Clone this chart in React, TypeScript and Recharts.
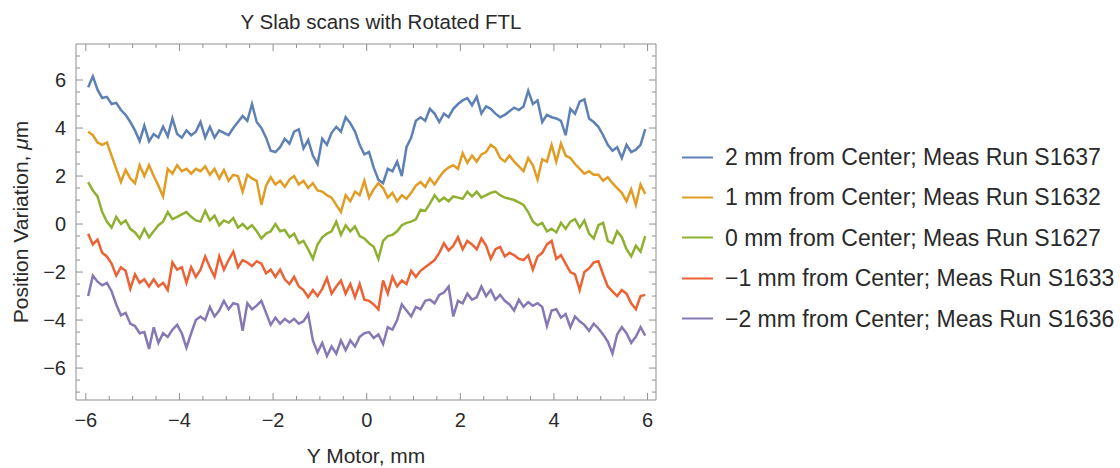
import { LineChart, Line, XAxis, YAxis } from 'recharts'

// scan positions (Y motor, mm)
const yMotor = Array.from({ length: 120 }, (_, i) => Math.round((-5.95 + i * 0.1) * 100) / 100)

// position variation, um
const run1637 = [
  5.7, 6.15, 5.6, 5.25, 5.3, 5.0, 5.05, 4.75, 4.55, 4.25,
  3.9, 3.45, 4.1, 3.45, 3.75, 3.6, 4.05, 3.65, 4.4, 3.75,
  3.6, 3.9, 3.7, 3.85, 4.25, 3.6, 4.05, 3.6, 3.9, 3.8,
  3.7, 4.0, 4.25, 4.5, 4.3, 5.0, 4.25, 4.0, 3.6, 3.05,
  3.0, 3.2, 3.55, 3.35, 3.85, 3.95, 3.15, 3.5, 2.85, 2.5,
  3.55, 3.3, 3.8, 4.05, 3.85, 4.45, 4.2, 3.85, 3.3, 2.9,
  3.0, 2.35, 1.85, 1.7, 2.3, 2.2, 2.6, 2.0, 3.2, 3.6,
  4.3, 4.45, 4.3, 4.8, 4.6, 4.25, 4.6, 4.45, 4.8, 5.0,
  5.15, 5.25, 4.95, 5.3, 4.6, 4.9, 4.8, 4.6, 4.45, 4.55,
  4.7, 4.85, 4.75, 4.9, 5.55, 5.0, 5.15, 4.25, 4.55, 4.45,
  4.4, 4.3, 3.7, 4.8, 4.6, 5.1, 5.2, 4.4, 4.25, 4.05,
  3.7, 3.3, 3.05, 3.2, 2.75, 3.3, 3.0, 3.1, 3.3, 3.95,
]

const run1632 = [
  3.85, 3.7, 3.4, 3.3, 3.4, 2.85, 2.3, 1.75, 2.25, 1.9,
  1.7, 2.45, 2.0, 2.45, 2.0, 1.6, 1.15, 2.3, 2.1, 2.45,
  2.2, 2.3, 2.1, 2.3, 2.2, 2.4, 2.05, 2.3, 1.9, 2.25,
  1.8, 2.05, 2.0, 1.35, 2.05, 1.9, 1.8, 0.8, 1.6, 1.95,
  1.65, 1.8, 1.55, 1.85, 2.0, 1.65, 1.8, 1.5, 1.7, 1.4,
  1.35, 1.2, 1.1, 0.8, 0.5, 1.2, 0.95, 1.35, 1.2, 1.8,
  1.1, 1.45, 1.7, 1.5, 1.1, 1.3, 0.95, 1.2, 1.05, 1.3,
  1.6, 1.75, 1.55, 1.9, 1.65, 1.95, 2.2, 2.35, 2.45, 2.3,
  2.95, 2.55, 2.85, 2.6, 2.9, 3.0, 3.3, 3.15, 2.75, 2.6,
  2.85, 2.6, 2.4, 2.2, 2.75, 2.45, 1.85, 2.7, 2.6, 3.3,
  2.6, 3.35, 2.85, 2.75, 2.5, 2.3, 2.1, 2.2, 2.05, 2.05,
  1.8, 1.95, 1.7, 1.5, 1.3, 0.95, 1.45, 0.8, 1.65, 1.25,
]

const run1627 = [
  1.75, 1.4, 1.15, 0.5, 0.1, -0.15, 0.3, 0.0, 0.15, -0.2,
  -0.35, -0.6, -0.2, -0.55, -0.3, -0.05, 0.1, 0.5, 0.2, 0.3,
  0.4, 0.5, 0.3, 0.15, 0.1, 0.55, 0.15, 0.35, -0.05, 0.15,
  0.05, 0.25, -0.15, 0.0, -0.2, -0.05, -0.3, -0.6, -0.4, -0.3,
  0.0, -0.3, -0.25, -0.55, -0.4, -0.8, -0.7, -1.05, -1.45, -0.85,
  -0.55, -0.4, -0.3, 0.1, -0.45, -0.05, -0.3, -0.1, -0.5, -0.6,
  -0.8, -0.95, -1.45, -0.7, -0.5, -0.45, -0.3, -0.05, 0.05, 0.1,
  0.2, 0.6, 0.55, 0.85, 1.2, 0.95, 1.1, 0.95, 1.15, 1.1,
  1.05, 1.35, 1.15, 1.35, 1.1, 1.2, 1.3, 1.35, 1.2, 1.1,
  1.05, 1.0, 0.9, 0.8, 0.5, 0.1, -0.05, 0.05, -0.3, -0.2,
  -0.35, 0.05, -0.2, 0.1, 0.2, -0.15, 0.15, -0.4, -0.6, -0.05,
  0.05, -0.7, -0.8, -0.3, -0.55, -1.05, -1.35, -0.9, -1.15, -0.5,
]

const run1633 = [
  -0.4, -0.85, -0.65, -1.2, -1.35, -1.65, -2.15, -1.8, -1.95, -2.7,
  -2.1, -2.45, -2.3, -2.6, -2.3, -2.6, -2.45, -2.75, -1.6, -1.9,
  -1.8, -2.45, -1.8, -2.2, -1.9, -1.35, -1.8, -2.2, -1.35, -1.9,
  -1.5, -1.15, -1.8, -1.5, -1.6, -1.75, -1.55, -1.65, -2.05, -1.9,
  -2.2, -1.9, -2.3, -2.5, -2.2, -2.6, -2.75, -3.05, -2.75, -3.0,
  -2.7, -2.25, -2.9, -2.6, -2.35, -2.9, -2.5, -3.05, -2.5, -3.15,
  -3.2, -3.35, -3.55, -2.35, -2.9, -2.2, -2.6, -2.35, -2.5, -1.95,
  -2.2, -1.95, -1.8, -1.65, -1.5, -1.2, -0.8, -1.1, -0.9, -0.55,
  -1.05, -0.7, -0.85, -1.05, -0.6, -0.9, -1.45, -1.05, -0.95, -1.35,
  -1.2, -1.3, -1.45, -1.5, -1.3, -1.9, -1.35, -1.2, -0.85, -0.7,
  -1.45, -1.3, -1.65, -2.0, -2.1, -2.75, -2.0, -1.85, -1.6, -1.55,
  -2.1, -2.6, -2.8, -3.0, -2.75, -2.9, -3.3, -3.55, -3.0, -2.95,
]

const run1636 = [
  -3.0, -2.15, -2.4, -2.55, -2.45, -2.8, -3.35, -3.8, -3.7, -4.15,
  -4.25, -4.55, -4.5, -5.2, -4.3, -4.95, -4.55, -4.7, -4.4, -4.2,
  -4.55, -5.15, -4.55, -4.0, -3.85, -4.0, -3.45, -3.85, -3.6, -3.2,
  -3.55, -3.3, -3.35, -4.45, -3.3, -3.55, -3.4, -3.2, -3.7, -4.2,
  -3.9, -4.15, -3.95, -4.1, -3.95, -4.15, -4.05, -3.75, -4.85, -5.35,
  -4.95, -5.5, -5.1, -5.4, -4.85, -5.25, -4.85, -5.1, -4.7, -4.55,
  -4.5, -4.75, -4.6, -5.0, -4.3, -4.4, -4.0, -3.35, -3.6, -3.85,
  -3.45, -3.55, -3.2, -3.15, -3.3, -2.95, -2.85, -2.6, -3.85, -3.2,
  -3.3, -2.9, -3.15, -3.05, -2.6, -3.0, -2.75, -3.15, -2.95, -3.2,
  -3.35, -3.6, -3.15, -3.45, -3.25, -3.4, -3.3, -3.45, -4.25, -3.6,
  -3.55, -3.9, -3.75, -4.3, -3.85, -4.05, -4.2, -4.45, -4.15, -4.35,
  -4.6, -4.9, -5.4, -4.6, -4.3, -4.55, -4.95, -4.7, -4.3, -4.65,
]

const seriesList = [
  { key: 's1637', name: '2 mm from Center; Meas Run S1637', color: '#5E81B5', values: run1637 },
  { key: 's1632', name: '1 mm from Center; Meas Run S1632', color: '#E19C24', values: run1632 },
  { key: 's1627', name: '0 mm from Center; Meas Run S1627', color: '#8FB131', values: run1627 },
  { key: 's1633', name: '\u22121 mm from Center; Meas Run S1633', color: '#EB6235', values: run1633 },
  { key: 's1636', name: '\u22122 mm from Center; Meas Run S1636', color: '#8778B3', values: run1636 },
]

const xTicks = Array.from({ length: 25 }, (_, i) => -6 + i * 0.5)
const yTicks = Array.from({ length: 29 }, (_, i) => -7 + i * 0.5)

const data = yMotor.map((x, i) => {
  const row: Record<string, number> = { x }
  seriesList.forEach((s) => {
    row[s.key] = s.values[i]
  })
  return row
})

const FONT = '"Liberation Sans", Arial, sans-serif'
const FRAME = '#8f8f8f'
const TEXT = '#2a2a2a'

const isMajor = (v: number) => Math.abs(v % 2) < 1e-9
const fmt = (v: number) => (v < 0 ? '\u2212' + Math.abs(v) : String(v))

function BottomTick({ x, y, payload }: any) {
  const major = isMajor(payload.value)
  return (
    <g>
      <line x1={x} x2={x} y1={y} y2={y - (major ? 7 : 4)} stroke={FRAME} strokeWidth={1} />
      {major && (
        <text x={x} y={y + 20} textAnchor="middle" dominantBaseline="central" fontSize={20} fontFamily={FONT} fill={TEXT}>
          {fmt(payload.value)}
        </text>
      )}
    </g>
  )
}

function TopTick({ x, y, payload }: any) {
  const major = isMajor(payload.value)
  return <line x1={x} x2={x} y1={y} y2={y + (major ? 7 : 4)} stroke={FRAME} strokeWidth={1} />
}

function LeftTick({ x, y, payload }: any) {
  const major = isMajor(payload.value)
  return (
    <g>
      <line x1={x} x2={x + (major ? 7 : 4)} y1={y} y2={y} stroke={FRAME} strokeWidth={1} />
      {major && (
        <text x={x - 10} y={y} textAnchor="end" dominantBaseline="central" fontSize={20} fontFamily={FONT} fill={TEXT}>
          {fmt(payload.value)}
        </text>
      )}
    </g>
  )
}

function RightTick({ x, y, payload }: any) {
  const major = isMajor(payload.value)
  return <line x1={x} x2={x - (major ? 7 : 4)} y1={y} y2={y} stroke={FRAME} strokeWidth={1} />
}

const renderXLabel = (props: any) => {
  const vb = props.viewBox
  return (
    <text x={vb.x + vb.width / 2} y={vb.y + 55} textAnchor="middle" dominantBaseline="central" fontSize={21} fontFamily={FONT} fill={TEXT}>
      Y Motor, mm
    </text>
  )
}

const renderYLabel = (props: any) => {
  const vb = props.viewBox
  const cx = vb.x + 20
  const cy = vb.y + vb.height / 2
  return (
    <text x={cx} y={cy} transform={`rotate(-90 ${cx} ${cy})`} textAnchor="middle" dominantBaseline="central" fontSize={21} fontFamily={FONT} fill={TEXT}>
      Position Variation, <tspan fontStyle="italic">μ</tspan>m
    </text>
  )
}

export default function App() {
  return (
    <div style={{ position: 'absolute', left: 0, top: 0, width: 1120, height: 468, background: '#fff', fontFamily: FONT }}>
      <div style={{ position: 'absolute', left: 381, top: 22, transform: 'translate(-50%, -50%)', fontSize: 20.5, color: TEXT, whiteSpace: 'nowrap' }}>
        Y Slab scans with Rotated FTL
      </div>
      <LineChart width={1120} height={468} data={data} margin={{ top: 43, right: 463, bottom: 0, left: 0 }}>
        <XAxis
          dataKey="x"
          type="number"
          domain={[-6.21, 6.18]}
          allowDataOverflow
          ticks={xTicks}
          interval={0}
          height={68}
          tickSize={0}
          tickMargin={0}
          tickLine={false}
          axisLine={{ stroke: FRAME }}
          tick={BottomTick}
          label={renderXLabel}
        />
        <XAxis
          xAxisId="top"
          orientation="top"
          dataKey="x"
          type="number"
          domain={[-6.21, 6.18]}
          allowDataOverflow
          ticks={xTicks}
          interval={0}
          height={1}
          tickSize={0}
          tickMargin={0}
          tickLine={false}
          axisLine={{ stroke: FRAME }}
          tick={TopTick}
        />
        <YAxis
          type="number"
          domain={[-7.33, 7.5]}
          allowDataOverflow
          ticks={yTicks}
          interval={0}
          width={76}
          tickSize={0}
          tickMargin={0}
          tickLine={false}
          axisLine={{ stroke: FRAME }}
          tick={LeftTick}
          label={renderYLabel}
        />
        <YAxis
          yAxisId="right"
          orientation="right"
          type="number"
          domain={[-7.33, 7.5]}
          allowDataOverflow
          ticks={yTicks}
          interval={0}
          width={1}
          tickSize={0}
          tickMargin={0}
          tickLine={false}
          axisLine={{ stroke: FRAME }}
          tick={RightTick}
        />
        {seriesList.map((s) => (
          <Line
            key={s.key}
            dataKey={s.key}
            name={s.name}
            type="linear"
            stroke={s.color}
            strokeWidth={2.5}
            dot={false}
            isAnimationActive={false}
          />
        ))}
      </LineChart>
      {seriesList.map((s, i) => (
        <div key={s.key} style={{ position: 'absolute', left: 682, top: 157 + i * 40.4, transform: 'translateY(-50%)', display: 'flex', alignItems: 'center', whiteSpace: 'nowrap' }}>
          <div style={{ width: 31, height: 2, background: s.color, marginRight: 12 }} />
          <span style={{ fontSize: 23, color: TEXT }}>{s.name}</span>
        </div>
      ))}
    </div>
  )
}
